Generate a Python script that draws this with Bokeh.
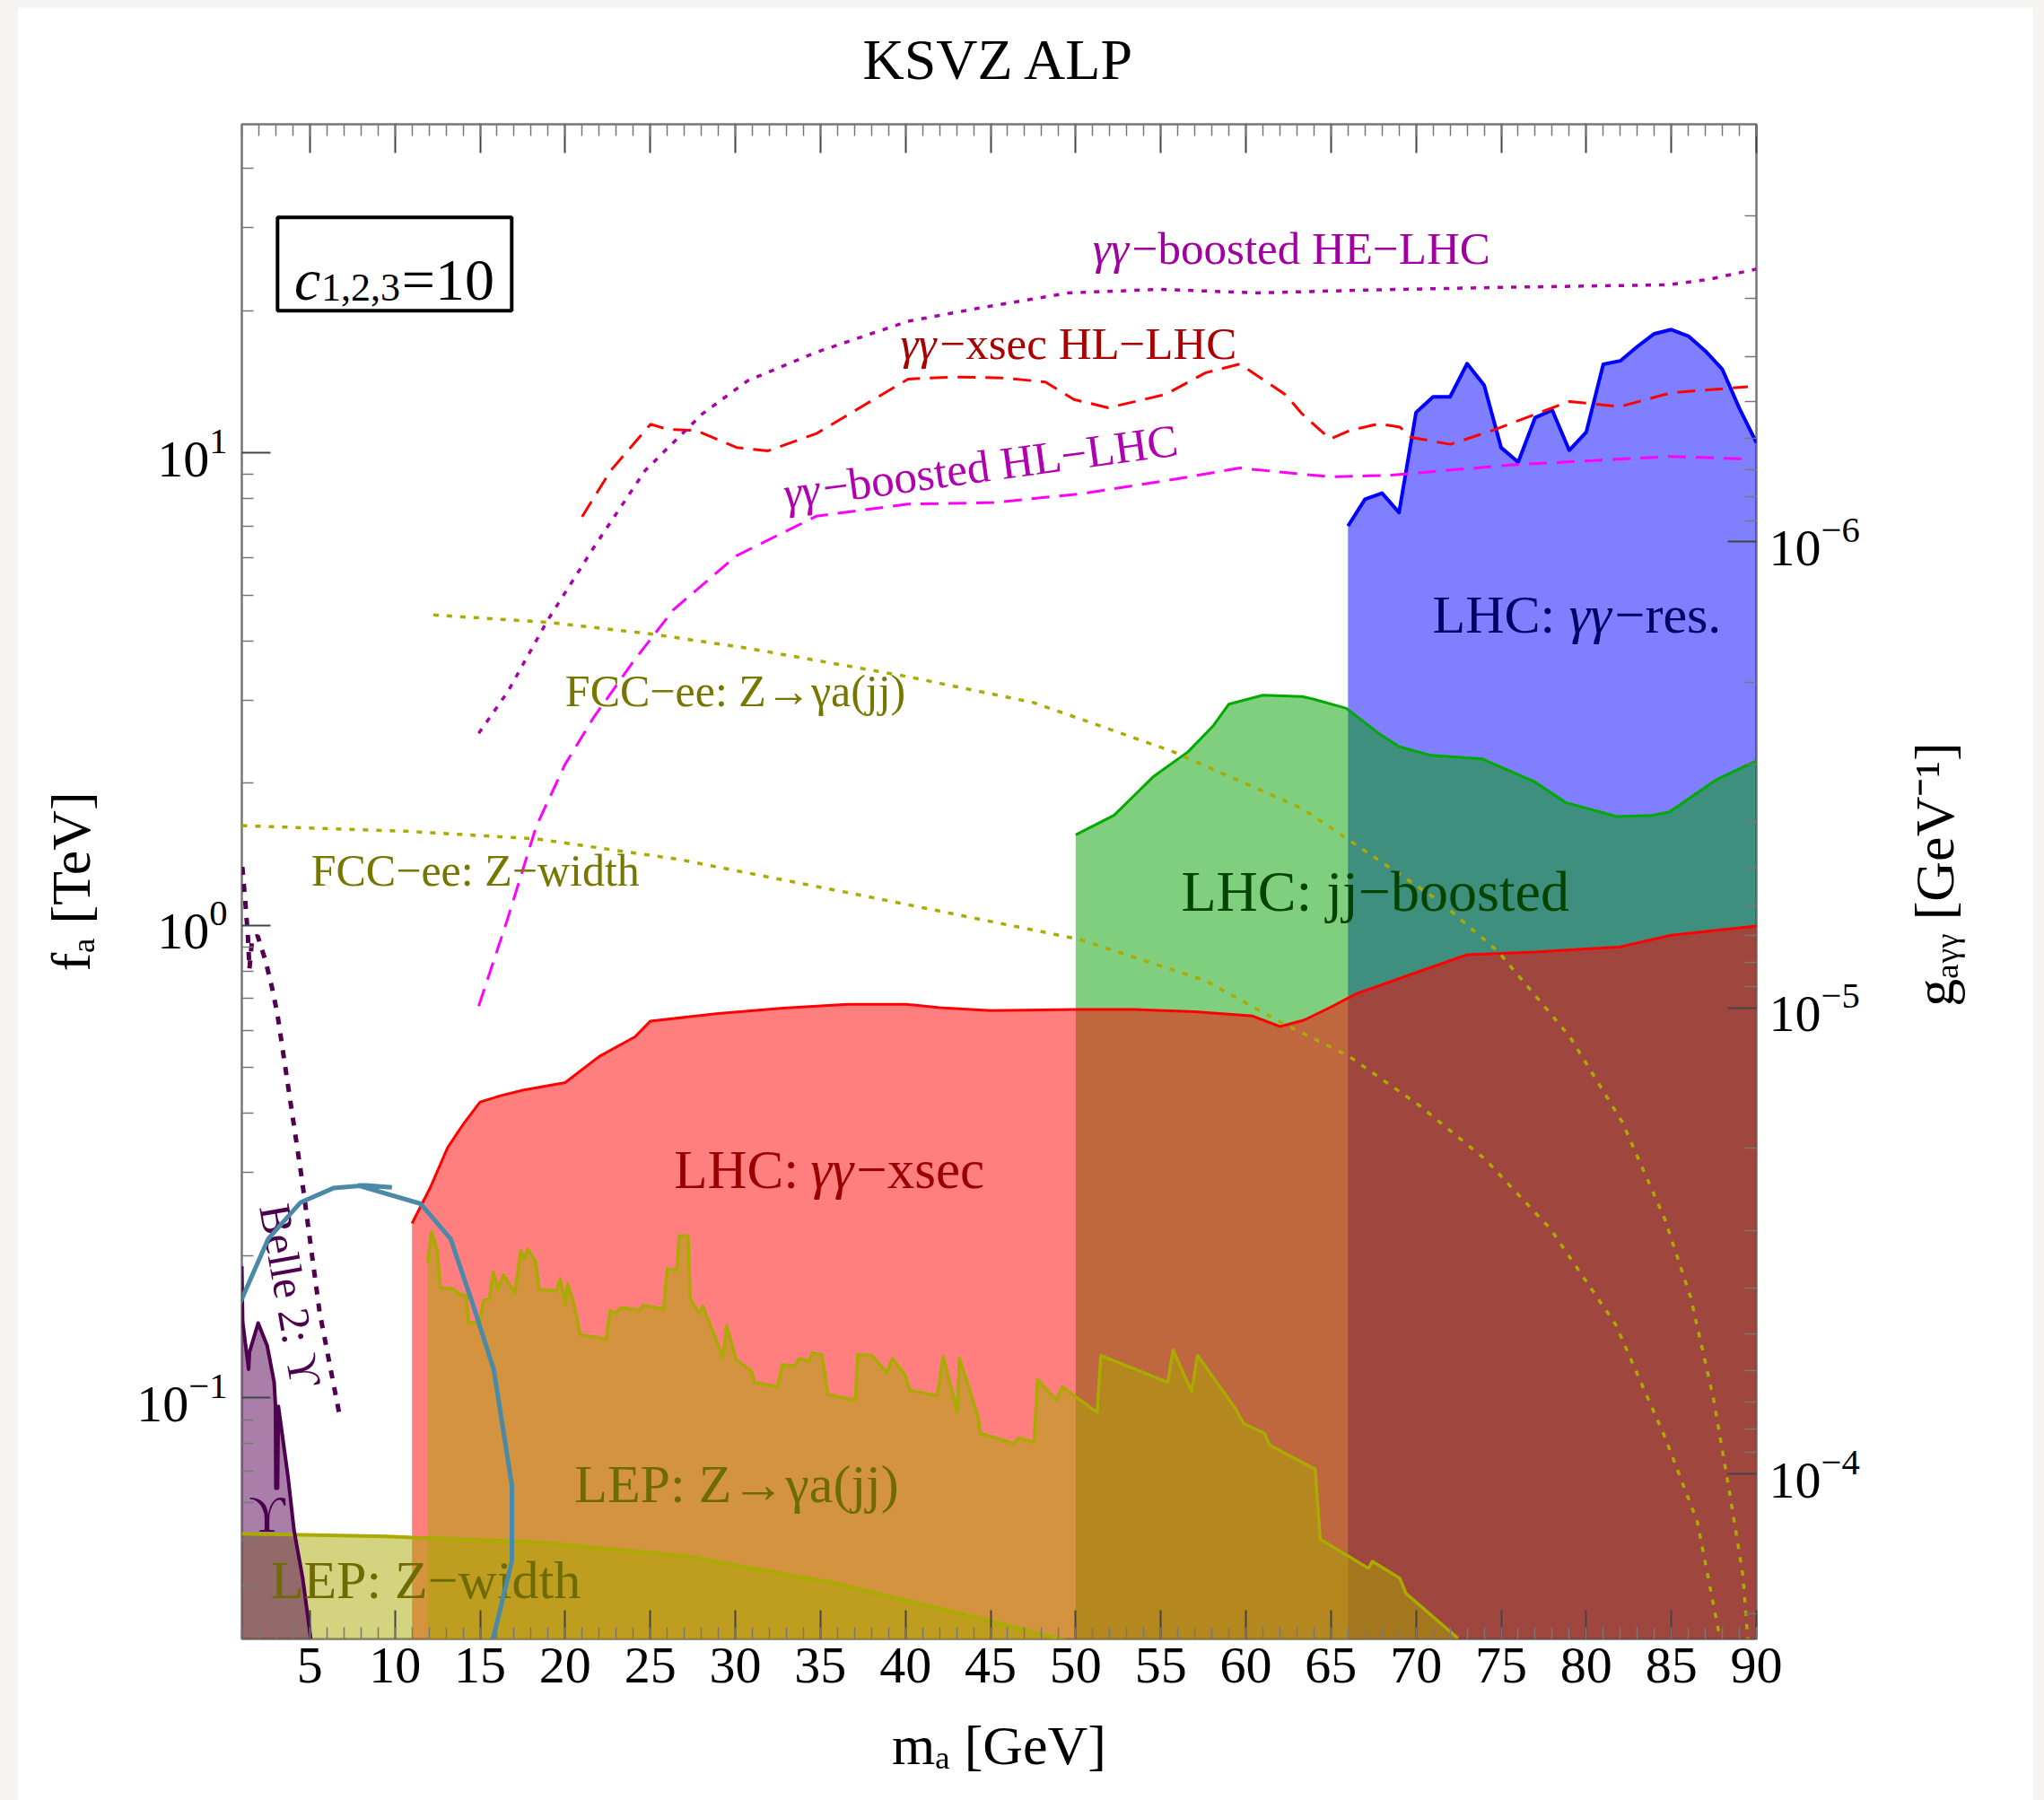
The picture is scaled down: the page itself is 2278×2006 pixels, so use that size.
import math
from bokeh.plotting import figure
from bokeh.models import (Range1d, LogScale, LogAxis, LinearAxis, FixedTicker, Label,
                          BoxAnnotation, PolyAnnotation, CustomJSTickFormatter)
from bokeh.layouts import column
from bokeh.embed import file_html
from bokeh.resources import INLINE

# ---------------- data (m_a in GeV, f_a in TeV) ----------------
x_res = [66, 67, 68, 69, 70, 71, 72, 73, 74, 75, 76, 77, 78, 79, 80, 81, 82, 83, 84, 85, 86, 87, 88, 89, 90]
f_res = [7.00, 7.98, 8.22, 7.48, 12.18, 13.14, 13.14, 15.45, 13.91, 10.26, 9.56, 11.88, 12.32, 10.13,
         11.06, 15.40, 15.66, 16.79, 17.87, 18.24, 17.67, 16.43, 15.02, 12.42, 10.51]

x_jj = [50, 52.25, 54.6, 56.6, 58.1, 59.0, 61.0, 63.3, 64.0, 65.9, 67.8, 69.0, 70.9, 73.9, 76.9,
        78.8, 81.8, 83.9, 84.9, 87.7, 90]
f_jj = [1.555, 1.71, 2.07, 2.33, 2.65, 2.94, 3.07, 3.05, 3.01, 2.88, 2.55, 2.39, 2.29, 2.25, 2.02,
        1.82, 1.70, 1.71, 1.74, 2.04, 2.23]

x_xsec = [11, 12.1, 13.1, 14, 15, 16.2, 17.5, 20, 22, 24.1, 25, 29, 32.8, 36.6, 40, 42, 45, 50,
          53.5, 57, 60.4, 62, 63.4, 65, 66.5, 69.5, 73, 77, 82, 85, 90]
f_xsec = [0.234, 0.28, 0.339, 0.379, 0.423, 0.436, 0.448, 0.465, 0.528, 0.581, 0.627, 0.651, 0.668,
          0.681, 0.681, 0.67, 0.66, 0.664, 0.664, 0.657, 0.643, 0.611, 0.63, 0.672, 0.717, 0.783,
          0.867, 0.878, 0.901, 0.953, 0.997]

x_lepjj = [11.92, 12.14, 12.49, 12.66, 13.45, 13.76, 14.19, 14.33, 14.98, 15.2, 15.55, 15.77, 16.07,
           16.38, 17.04, 17.39, 17.6, 17.82, 18.26, 18.48, 19.48, 19.7, 20.01, 20.14, 20.53, 20.88,
           22.41, 22.63, 22.98, 23.29, 24.38, 24.6, 25.78, 26.0, 26.56, 26.7, 27.22, 27.35, 27.88,
           28.09, 28.4, 29.27, 29.49, 30.06, 30.93, 31.15, 32.47, 32.77, 33.47, 33.78, 34.34, 34.52,
           35.09, 35.44, 37.05, 37.19, 38.02, 38.89, 39.24, 39.98, 40.24, 41.86, 42.21, 43.04, 43.17,
           44.27, 44.4, 46.36, 46.67, 47.55, 47.76, 48.86, 49.21, 51.26, 51.48, 55.41, 55.72, 56.81,
           57.16, 59.35, 59.87, 61.09, 61.4, 64.07, 64.37, 67.21, 67.43, 69.05, 69.4, 72.46]
f_lepjj = [0.192, 0.225, 0.205, 0.171, 0.170, 0.166, 0.1646, 0.1444, 0.1444, 0.161, 0.1618, 0.185,
           0.1695, 0.1823, 0.167, 0.205, 0.1975, 0.2064, 0.1947, 0.1695, 0.1683, 0.179, 0.1576,
           0.1745, 0.1576, 0.1362, 0.1332, 0.153, 0.1513, 0.1553, 0.1535, 0.1571, 0.1542, 0.1877,
           0.1863, 0.2203, 0.2203, 0.1622, 0.1509, 0.1565, 0.1465, 0.1221, 0.1422, 0.1203, 0.1143,
           0.1079, 0.1055, 0.1177, 0.1169, 0.1212, 0.1195, 0.1245, 0.1234, 0.1018, 0.0989, 0.1235,
           0.123, 0.113, 0.1212, 0.1118, 0.104, 0.101, 0.1226, 0.0935, 0.1212, 0.0912, 0.0842, 0.080,
           0.0823, 0.0806, 0.1095, 0.0989, 0.1055, 0.0932, 0.123, 0.1079, 0.1263, 0.1032, 0.123,
           0.0953, 0.0882, 0.0842, 0.0794, 0.0707, 0.0502, 0.0436, 0.0451, 0.0415, 0.0386, 0.031]

x_zw = [1.0, 9.52, 18.26, 27.0, 35.74, 44.48, 49.73]
f_zw = [0.0516, 0.0509, 0.0495, 0.0463, 0.0406, 0.0341, 0.0304]

x_belle = [1.0, 1.05, 1.4, 1.45, 1.96, 2.49, 2.9, 2.98, 3.0, 3.1, 3.15, 3.72, 4.07, 4.59, 5.05]
f_belle = [0.19, 0.145, 0.115, 0.125, 0.144, 0.129, 0.108, 0.096, 0.0644, 0.0644, 0.096, 0.0679,
           0.0524, 0.0413, 0.0309]

x_xsec_hl = [20.99, 22.67, 25.02, 26.04, 27.71, 30.07, 31.92, 34.77, 37.46, 40.15, 42.84, 45.86,
             48.22, 49.90, 51.92, 55.28, 57.64, 59.65, 62.34, 63.28, 64.94, 66.08, 67.82, 69.05,
             69.74, 72.02, 74.47, 79.01, 81.99, 84.96, 89.5]
f_xsec_hl = [7.32, 9.17, 11.50, 11.21, 11.15, 10.27, 10.10, 10.99, 12.55, 14.33, 14.48, 14.40, 14.13,
             12.97, 12.46, 13.30, 14.78, 15.42, 13.27, 12.12, 10.70, 11.15, 11.53, 11.34, 10.78,
             10.43, 11.15, 12.85, 12.53, 13.40, 13.81]

x_boost_hl = [14.92, 16.62, 18.30, 19.99, 21.66, 24.01, 26.37, 30.07, 34.77, 40.15, 45.19, 50.24,
              55.28, 59.65, 62.68, 65.03, 68.53, 75.52, 84.96, 89.68]
f_boost_hl = [0.675, 1.033, 1.62, 2.19, 2.75, 3.62, 4.66, 6.06, 7.35, 7.79, 7.85, 8.19, 8.73, 9.29,
              9.06, 8.90, 8.97, 9.43, 9.83, 9.70]

x_boost_he = [14.92, 16.62, 18.98, 21.66, 24.69, 28.05, 30.74, 34.77, 40.15, 44.19, 49.57, 54.94,
              60.66, 67.26, 74.91, 84.87, 87.17, 90.0]
f_boost_he = [2.55, 3.12, 4.43, 6.29, 9.17, 12.09, 14.23, 16.34, 18.99, 20.21, 21.81, 22.19, 21.81,
              22.12, 22.40, 22.69, 23.28, 24.49]

x_fcc_jj = [12.25, 18.98, 25.02, 30.74, 40.15, 47.55, 55.62, 63.28, 71.38, 74.83, 79.04, 82.11,
            84.60, 86.14, 87.48, 88.44, 89.20, 89.49]
f_fcc_jj = [4.54, 4.38, 4.14, 3.86, 3.36, 2.96, 2.34, 1.77, 1.125, 0.880, 0.581, 0.384, 0.240,
            0.163, 0.0996, 0.0625, 0.0423, 0.031]

x_fcc_zw = [1.0, 10.57, 18.30, 26.70, 37.46, 50.24, 57.64, 62.00, 66.01, 70.23, 74.06, 77.89,
            81.73, 84.60, 86.52, 87.86]
f_fcc_zw = [1.626, 1.583, 1.525, 1.379, 1.157, 0.934, 0.764, 0.625, 0.530, 0.415, 0.320, 0.228,
            0.143, 0.083, 0.0548, 0.031]

x_belle_g = [1.03, 1.19, 1.35, 1.45, 1.61, 1.93, 2.40, 2.77, 3.09, 3.72, 4.51, 5.57, 6.78]
f_belle_g = [1.33, 1.14, 0.96, 0.81, 0.94, 0.95, 0.84, 0.74, 0.65, 0.457, 0.294, 0.152, 0.0905]

x_ticks = list(range(5, 91, 5))
x_minor = [v for v in range(1, 91)]
f_ticks = [0.1, 1, 10]
f_minor = [k * 10.0 ** e for e in (-2, -1, 0, 1) for k in range(2, 10)]
g_ticks = [1e-6, 1e-5, 1e-4]
g_minor = [k * 10.0 ** e for e in (-7, -6, -5, -4) for k in range(2, 10)]

# hand-drawn highlight loop (overlay annotation, data units)
loop_x = [7.83, 11.51, 13.27, 14.57, 15.80, 16.87, 16.87, 15.80, 14.04, 11.74, 9.06, 5.99, 3.32,
          1.02, -0.28, -0.82, -0.67, -0.13, 0.87, 2.55, 4.46, 6.38, 8.29, 9.82]
loop_y = [0.2817, 0.2576, 0.2171, 0.158, 0.115, 0.0653, 0.0452, 0.0313, 0.0235, 0.0207, 0.02005,
          0.02123, 0.02394, 0.0288, 0.0362, 0.0473, 0.0649, 0.0921, 0.158, 0.2171, 0.2594, 0.278,
          0.2817, 0.279]

FONT = "Liberation Serif"
FLOOR = 0.005
X0, X1, Y0, Y1 = 1, 90, 0.0309, 49.6
FRAME = 1688
PX_PER_GEV = FRAME / (X1 - X0)
PX_PER_DEC = FRAME / math.log10(Y1 / Y0)

p = figure(width=2247, height=1998, x_range=Range1d(X0, X1), y_range=Range1d(Y0, Y1),
           y_axis_type="log", output_backend="svg", toolbar_location=None,
           min_border_left=250, min_border_right=309, min_border_top=130, min_border_bottom=180,
           background_fill_color="white", border_fill_color="white")
p.margin = (8, 12, 0, 19)
p.xgrid.visible = False
p.ygrid.visible = False
p.outline_line_color = "#777777"
p.outline_line_width = 2.5
p.title.visible = False

p.extra_y_ranges = {"g": Range1d(2.26e-4, 1.27e-7)}
p.extra_y_scales = {"g": LogScale()}


def style_axis(ax, size="58px"):
    ax.axis_line_color = None
    ax.major_tick_in = 32
    ax.major_tick_out = 0
    ax.minor_tick_in = 13
    ax.minor_tick_out = 0
    ax.major_tick_line_color = "#444444"
    ax.major_tick_line_width = 2
    ax.minor_tick_line_color = "#777777"
    ax.minor_tick_line_width = 1.5
    ax.major_label_text_font = FONT
    ax.major_label_text_font_size = size
    ax.major_label_text_color = "black"
    ax.axis_label_text_font = FONT
    ax.axis_label_text_font_size = "62px"
    ax.axis_label_text_font_style = "normal"
    ax.axis_label_text_color = "black"


xa = p.xaxis[0]
xa.ticker = FixedTicker(ticks=x_ticks, minor_ticks=x_minor)
style_axis(xa)
xa.major_label_standoff = 10
xa.axis_label = "mₐ [GeV]"
xa.axis_label_standoff = 33

ya = p.yaxis[0]
ya.ticker = FixedTicker(ticks=f_ticks, minor_ticks=f_minor)
style_axis(ya)
ya.major_label_standoff = 16
ya.axis_label = "fₐ [TeV]"
ya.axis_label_standoff = 36

top = LinearAxis(ticker=FixedTicker(ticks=x_ticks, minor_ticks=x_minor),
                 formatter=CustomJSTickFormatter(code="return ''"))
style_axis(top)
top.major_label_standoff = 0
p.add_layout(top, "above")

right = LogAxis(y_range_name="g", ticker=FixedTicker(ticks=g_ticks, minor_ticks=g_minor))
style_axis(right)
right.major_label_standoff = 14
p.add_layout(right, "right")

# title, in its own panel above the top axis
p.add_layout(Label(x=FRAME / 2, y=72, x_units="screen", y_units="screen", text="KSVZ ALP",
                   text_align="center", text_baseline="alphabetic",
                   text_font=FONT, text_font_size="64px", text_color="black"), "above")

# right-hand axis title, in its own side panel (reads bottom to top, centred on the frame)
p.add_layout(Label(x=80, y=FRAME / 2 + 8, x_units="screen", y_units="screen", text="gₐᵧᵧ [GeV⁻¹]",
                   angle=math.pi / 2, text_align="center", text_baseline="alphabetic",
                   text_font=FONT, text_font_size="62px", text_color="black"), "right")

# ---------------- filled regions ----------------
p.varea(x=x_res, y1=FLOOR, y2=f_res, fill_color="#0000ff", fill_alpha=0.5)
p.varea(x=x_jj, y1=FLOOR, y2=f_jj, fill_color="#00a000", fill_alpha=0.5)
p.varea(x=x_xsec, y1=FLOOR, y2=f_xsec, fill_color="#ff0000", fill_alpha=0.5)
p.varea(x=x_lepjj, y1=FLOOR, y2=f_lepjj, fill_color="#aaa800", fill_alpha=0.5)
p.varea(x=x_zw, y1=FLOOR, y2=f_zw, fill_color="#aaa800", fill_alpha=0.5)
p.varea(x=x_belle, y1=FLOOR, y2=f_belle, fill_color="#540054", fill_alpha=0.5)

p.line(x_res, f_res, line_color="#0000ff", line_width=4, line_join="round")
p.line(x_jj, f_jj, line_color="#00aa00", line_width=3, line_join="round")
p.line(x_xsec, f_xsec, line_color="#ff0000", line_width=3, line_join="round")
p.line(x_lepjj, f_lepjj, line_color="#aaaa00", line_width=3.5, line_join="round")
p.line(x_zw, f_zw, line_color="#aaaa00", line_width=4, line_join="round")
p.line(x_belle, f_belle, line_color="#4d004d", line_width=4, line_join="round")

# ---------------- projection curves ----------------
p.line(x_xsec_hl, f_xsec_hl, line_color="#ff0000", line_width=3, line_dash="20 11")
p.line(x_boost_hl, f_boost_hl, line_color="#ff00ff", line_width=3, line_dash="20 11")
p.line(x_boost_he, f_boost_he, line_color="#aa00aa", line_width=3.5, line_dash="6 9")
p.line(x_fcc_jj, f_fcc_jj, line_color="#aaaa00", line_width=3.5, line_dash="6 9")
p.line(x_fcc_zw, f_fcc_zw, line_color="#aaaa00", line_width=3.5, line_dash="6 9")
p.line(x_belle_g, f_belle_g, line_color="#500050", line_width=5, line_dash="9 10")


def lab(x, y, text, color, size, angle=0.0, align="left", baseline="middle", style="normal"):
    p.add_layout(Label(x=x, y=y, text=text, text_color=color, text_font=FONT,
                       text_font_size=size, angle=angle, text_align=align,
                       text_baseline=baseline, text_font_style=style))


def multi(x, y, parts, color, size, angle_deg=0.0):
    """parts: (text, style, offset along the baseline in px)"""
    a = math.radians(angle_deg)
    for text, style, d in parts:
        xx = x + d * math.cos(a) / PX_PER_GEV
        yy = y * 10 ** (d * math.sin(a) / PX_PER_DEC)
        lab(xx, yy, text, color, size, angle=a, style=style)


# region & curve labels
multi(51.0, 27.1, [("γγ", "italic", 0), ("−boosted HE−LHC", "normal", 44)], "#a000a0", "51px")
multi(39.7, 17.05, [("γγ", "italic", 0), ("−xsec HL−LHC", "normal", 44)], "#aa0000", "51px")
multi(32.84, 8.19, [("γγ", "italic", 0), ("−boosted HL−LHC", "normal", 44)], "#b000b0", "51px",
      angle_deg=7.8)
lab(20.0, 3.13, "FCC−ee: Z→γa(jj)", "#777700", "50px")
lab(5.07, 1.31, "FCC−ee: Z−width", "#777700", "50px")
multi(70.97, 4.55, [("LHC: ", "normal", 0), ("γγ", "italic", 152), ("−res.", "normal", 203)],
      "#000066", "60px")
lab(56.2, 1.18, "LHC:  jj−boosted", "#004400", "64px")
multi(26.4, 0.304, [("LHC: ", "normal", 0), ("γγ", "italic", 152), ("−xsec", "normal", 203)],
      "#990000", "61px")
lab(20.55, 0.0658, "LEP: Z→γa(jj)", "#6e6c00", "60px")
lab(2.7, 0.0411, "LEP: Z−width", "#6e6c00", "60px")
lab(3.85, 0.165, "Belle 2: ϒ", "#4d004d", "50px", angle=math.radians(-80), align="center")
lab(2.48, 0.0565, "ϒ", "#4d004d", "56px", align="center")

# c_{1,2,3}=10 box
p.add_layout(BoxAnnotation(left=3.1, right=16.86, bottom=20.0, top=31.5, fill_color=None,
                           line_color="black", line_alpha=1.0, line_width=4))
lab(4.09, 23.3, "c", "black", "66px", baseline="alphabetic", style="italic")
lab(5.67, 22.4, "1,2,3", "black", "44px", baseline="alphabetic")
lab(10.40, 23.3, "=10", "black", "66px", baseline="alphabetic")

# hand-drawn highlight loop
p.add_layout(PolyAnnotation(xs=loop_x, ys=loop_y, fill_color=None, fill_alpha=0,
                            line_color="#4b89a8", line_alpha=1.0, line_width=5))

root = column(p, styles={"background-color": "#f5f4f2"})
open("out.html", "w").write(file_html(root, INLINE))
